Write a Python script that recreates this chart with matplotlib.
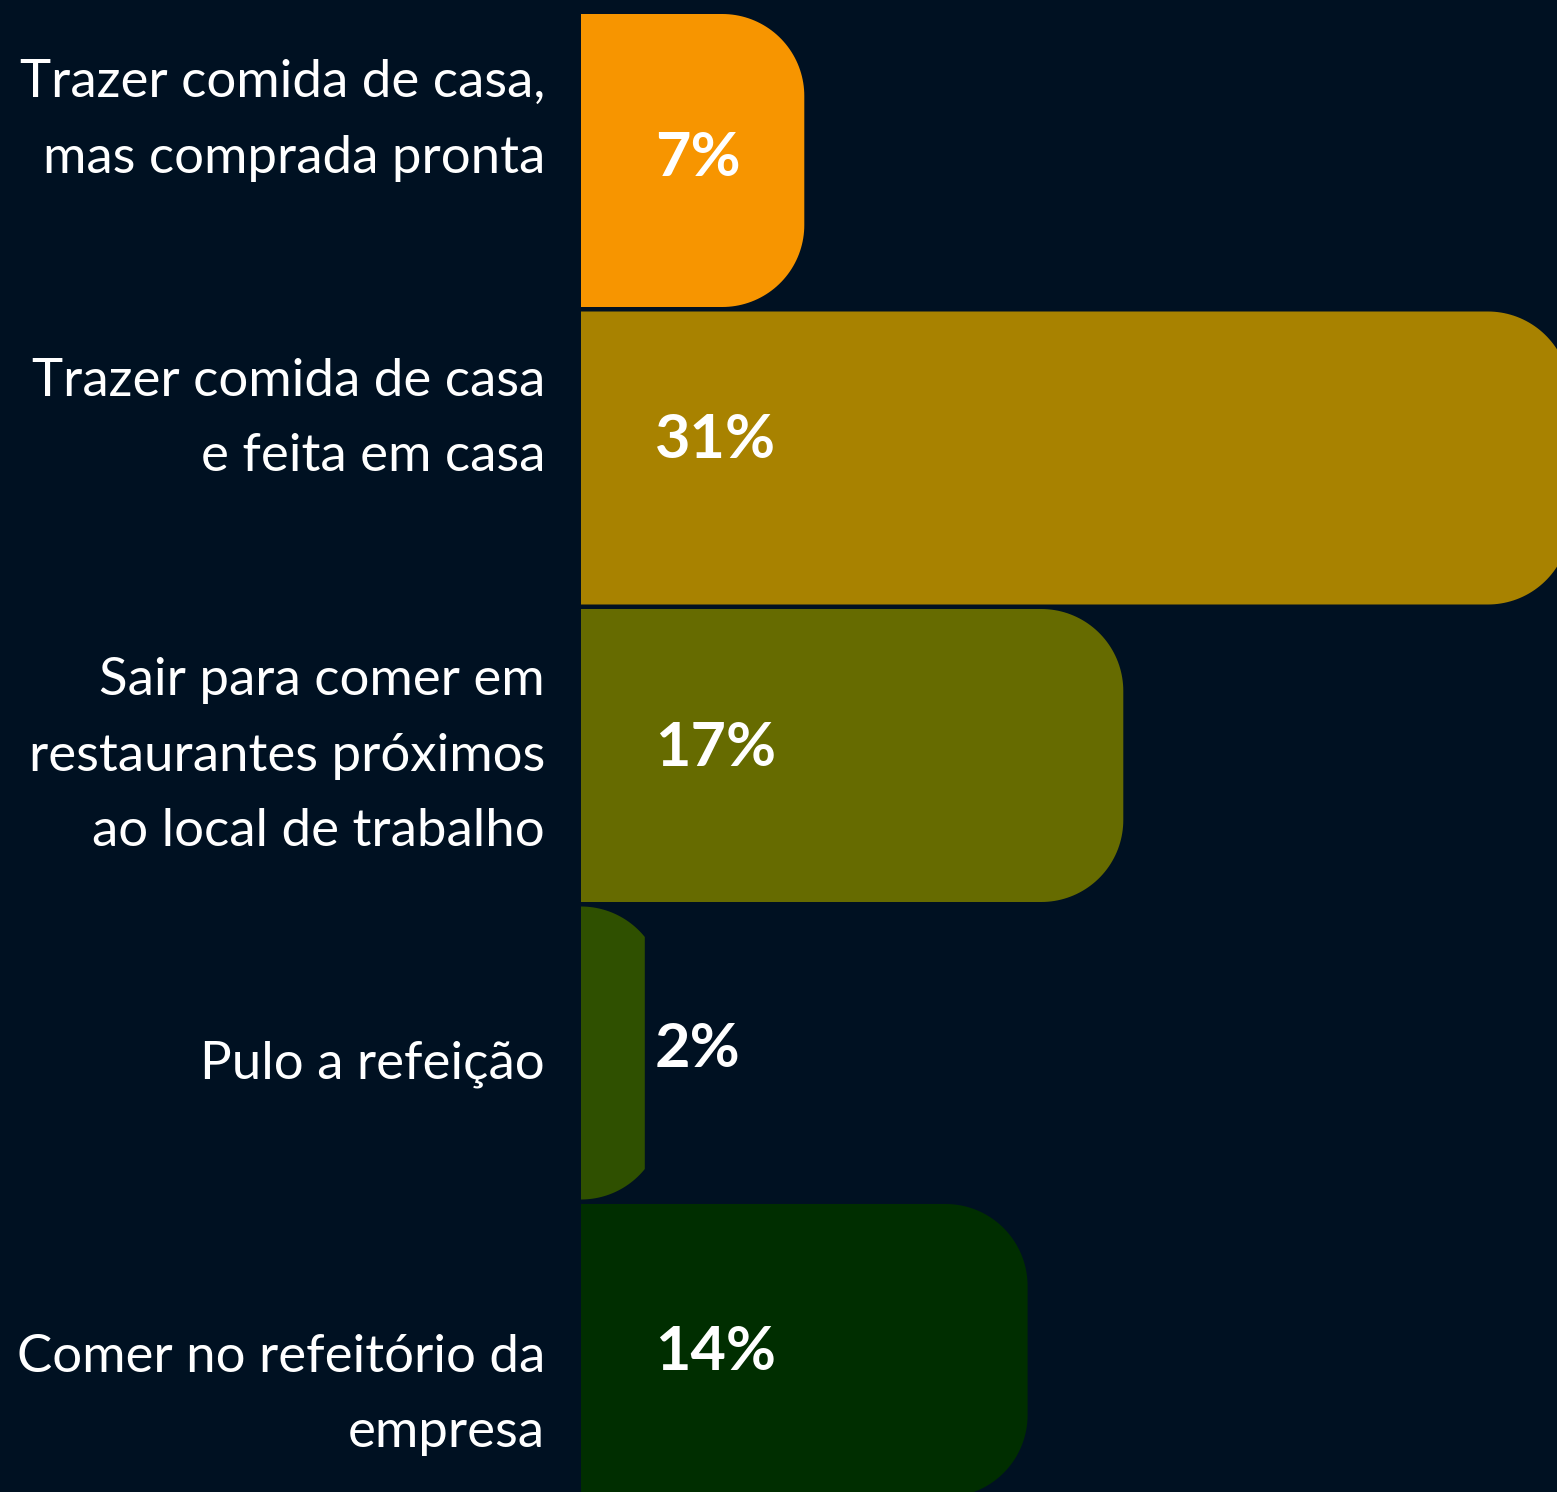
import matplotlib
matplotlib.use("Agg")
import matplotlib.pyplot as plt
import numpy as np
from matplotlib.patches import Polygon
from matplotlib.transforms import ScaledTranslation

categories = [
    "Trazer comida de casa,\nmas comprada pronta",
    "Trazer comida de casa\ne feita em casa",
    "Sair para comer em\nrestaurantes próximos\nao local de trabalho",
    "Pulo a refeição",
    "Comer no refeitório da\nempresa",
]
values = [7, 31, 17, 2, 14]
value_labels = ["7%", "31%", "17%", "2%", "14%"]
colors = ["#F79500", "#A88200", "#666B00", "#2F5000", "#002E00"]

BG = "#001122"
W, H, DPI = 1557, 1492, 100
fig = plt.figure(figsize=(W / DPI, H / DPI), dpi=DPI, facecolor=BG)

ax_left = 581 / W
ax = fig.add_axes([ax_left, 0, 1 - ax_left, 1])
ax.set_facecolor(BG)

px_per_unit = 31.9
pitch = 297.5
bar_h = 293 / pitch
xmax = (W - 581) / px_per_unit
top = -bar_h / 2 - 14 / pitch
ax.set_xlim(0, xmax)
ax.set_ylim(top + H / pitch, top)
for s in ax.spines.values():
    s.set_visible(False)
ax.set_xticks([])

y = np.arange(len(values))
bars = ax.barh(y, values, height=bar_h, color="none", edgecolor="none")

fig.canvas.draw()
toD = ax.transData
inv = toD.inverted()
R = 82  # corner radius in px
for b, c in zip(bars, colors):
    x0, y0 = b.get_x(), b.get_y()
    x1, y1 = x0 + b.get_width(), y0 + b.get_height()
    (px0, py_a), (px1, py_b) = toD.transform([(x0, y0), (x1, y1)])
    pyt, pyb = max(py_a, py_b), min(py_a, py_b)
    cx = max(px1 - R, px0)
    dx = px1 - cx
    theta_end = np.arcsin(min(dx / R, 1.0))
    th = np.linspace(0, theta_end, 40)
    top_arc = np.column_stack([cx + R * np.sin(th), pyt - R + R * np.cos(th)])
    bot_arc = np.column_stack([cx + R * np.sin(th[::-1]), pyb + R - R * np.cos(th[::-1])])
    pts = np.vstack([[px0, pyt], top_arc, bot_arc, [px0, pyb]])
    ax.add_patch(Polygon(inv.transform(pts), closed=True, facecolor=c, edgecolor="none"))

ax.set_yticks(y)
ax.set_yticklabels(categories)
ax.tick_params(axis="y", length=0, pad=26, colors="white")
label_shift_px = [-59, -58, -18, 7, 26]
for lab, sh in zip(ax.get_yticklabels(), label_shift_px):
    lab.set_fontfamily("Lato")
    lab.set_fontsize(38)
    lab.set_color("white")
    lab.set_multialignment("right")
    lab.set_linespacing(1.75)
    lab.set_transform(lab.get_transform() + ScaledTranslation(0, -sh / DPI, fig.dpi_scale_trans))

value_shift_px = [-2, -18, -8, -4, 2]
for yi, txt, sh in zip(y, value_labels, value_shift_px):
    ax.annotate(txt, xy=(0, yi), xytext=(74 * 72 / DPI, -sh * 72 / DPI), textcoords="offset points",
                ha="left", va="center", color="white", fontsize=44,
                fontfamily="Lato", fontweight="bold")

fig.savefig("out.png", dpi=DPI, facecolor=BG)
